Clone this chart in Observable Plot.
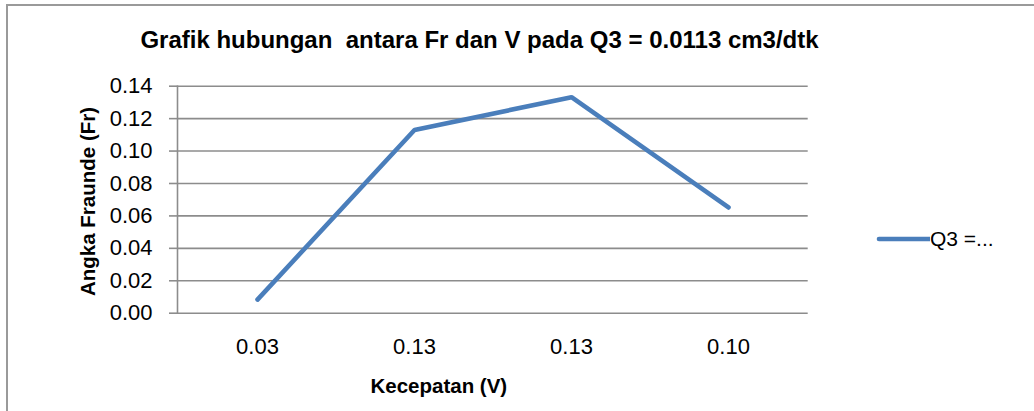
<!DOCTYPE html>
<html>
<head>
<meta charset="utf-8">
<script src="https://cdn.jsdelivr.net/npm/d3@7"></script>
<script src="https://cdn.jsdelivr.net/npm/@observablehq/plot@0.6"></script>
<style>
  html, body { margin: 0; padding: 0; background: #fff; }
  #chart { position: relative; width: 1034px; height: 411px; overflow: hidden; font-family: "Liberation Sans", Arial, sans-serif; color: #000; }
  #border { position: absolute; left: 6px; top: 4px; width: 1060px; height: 440px; border: 2px solid #9a9a9a; box-sizing: border-box; }
  #title { position: absolute; left: 0; top: 28px; width: 959px; text-align: center; font-weight: bold; font-size: 24px; line-height: 24px; white-space: nowrap; }
  #plot { position: absolute; left: 0; top: 60px; }
  #legend { position: absolute; left: 876px; top: 227px; display: flex; align-items: center; font-size: 21px; line-height: 24px; white-space: nowrap; }
  #legend .sw { width: 54px; height: 24px; }
</style>
</head>
<body>
<div id="chart">
  <div id="border"></div>
  <div id="title">Grafik hubungan&nbsp; antara Fr dan V pada Q3 = 0.0113 cm3/dtk</div>
  <div id="plot"></div>
  <div id="legend"></div>
</div>
<script>
// ---- data ----
const categories = ["0.03", "0.13", "0.13", "0.10"];
const frValues = [0.0084, 0.113, 0.1332, 0.0652];
const yTicks = [0, 0.02, 0.04, 0.06, 0.08, 0.10, 0.12, 0.14];
const seriesName = "Q3 =...";
const xTitle = "Kecepatan (V)";
const yTitle = "Angka Fraunde (Fr)";

const lineColor = "#4a7ebb";
const gridColor = "#8c8c8c";

const data = categories.map((c, i) => ({i, label: c, fr: frValues[i]}));

const chart = Plot.plot({
  width: 1034,
  height: 351,
  marginLeft: 177,
  marginRight: 226.3,
  marginTop: 25.7,
  marginBottom: 98.3,
  style: {fontFamily: "'Liberation Sans', Arial, sans-serif", fontSize: "22px", color: "#000", background: "transparent", overflow: "visible"},
  x: {type: "point", domain: data.map(d => d.i), padding: 0.5},
  y: {domain: [0, 0.14]},
  marks: [
    Plot.gridY(yTicks, {stroke: gridColor, strokeOpacity: 1, strokeWidth: 1.6}),
    Plot.axisY(yTicks, {tickFormat: d3.format(".2f"), tickSize: 8, tickPadding: 17, stroke: gridColor, strokeOpacity: 1, strokeWidth: 1.6, label: null}),
    Plot.axisX(data.map(d => d.i), {tickFormat: i => categories[i], tickSize: 0, tickPadding: 25, label: null}),
    Plot.frame({anchor: "left", stroke: gridColor, strokeWidth: 1.6}),
    Plot.lineY(data, {x: "i", y: "fr", stroke: lineColor, strokeWidth: 4.6, strokeLinecap: "round", strokeLinejoin: "miter"}),
    Plot.text([yTitle], {frameAnchor: "left", dx: -89, dy: 1.8, rotate: -90, textAnchor: "middle", lineAnchor: "middle", fontWeight: "bold", fontSize: 20.5}),
    Plot.text([xTitle], {frameAnchor: "bottom", dx: -54, dy: 73.3, textAnchor: "middle", lineAnchor: "middle", fontWeight: "bold", fontSize: 20.5})
  ]
});
document.getElementById("plot").appendChild(chart);

// legend
const leg = document.getElementById("legend");
leg.innerHTML = `<svg class="sw" width="54" height="24"><line x1="3" y1="12" x2="53" y2="12" stroke="${lineColor}" stroke-width="4.6" stroke-linecap="round"/></svg><span>${seriesName}</span>`;
</script>
</body>
</html>
